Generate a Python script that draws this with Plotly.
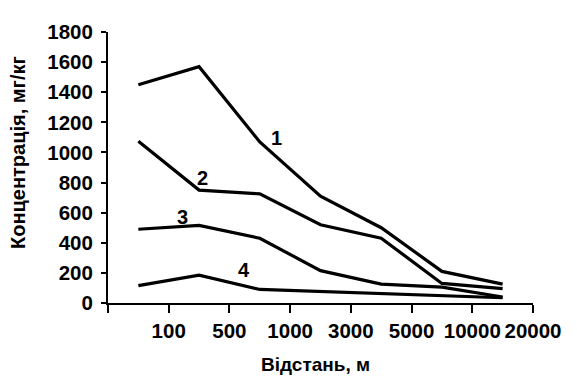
import plotly.graph_objects as go

# Category positions of the measurement points (between the printed ticks)
x_pos = [0.5, 1.5, 2.5, 3.5, 4.5, 5.5, 6.5]

# Tick labels on the distance axis
tick_pos = [0, 1, 2, 3, 4, 5, 6, 7]
tick_labels = ["", "100", "500", "1000", "3000", "5000", "10000", "20000"]

# Concentration series, mg/kg
series_1 = [1450, 1570, 1070, 710, 500, 210, 125]
series_2 = [1075, 750, 725, 520, 430, 130, 95]
series_3 = [490, 515, 430, 215, 125, 105, 40]
series_4 = [115, 185, 90, 75, 60, 50, 35]

series_names = ["1", "2", "3", "4"]
label_x = [2.78, 1.56, 1.22, 2.24]
label_y = [1098, 833, 574, 217]

font_family = "Liberation Sans, Arial, sans-serif"

fig = go.Figure()
for name, ys in zip(series_names, [series_1, series_2, series_3, series_4]):
    fig.add_trace(go.Scatter(x=x_pos, y=ys, mode="lines", name=name,
                             line=dict(color="black", width=3.2),
                             showlegend=False))

for name, lx, ly in zip(series_names, label_x, label_y):
    fig.add_annotation(x=lx, y=ly, text="<b>" + name + "</b>", showarrow=False,
                       font=dict(size=20, color="black", family=font_family))

fig.add_annotation(text="<b>Концентрація, мг/кг</b>", xref="paper", yref="paper",
                   x=-0.212, y=0.557, textangle=-90, showarrow=False,
                   xanchor="center", yanchor="middle",
                   font=dict(size=20, color="black", family=font_family))
fig.add_annotation(text="<b>Відстань, м</b>", xref="paper", yref="paper",
                   x=0.489, y=-0.228, showarrow=False,
                   xanchor="center", yanchor="middle",
                   font=dict(size=19, color="black", family=font_family))

fig.update_layout(
    width=569, height=368,
    margin=dict(l=100, r=44, t=13, b=73),
    plot_bgcolor="white", paper_bgcolor="white",
    font=dict(family=font_family, size=20, color="black", weight="bold"),
    xaxis=dict(range=[0, 7], tickmode="array", tickvals=tick_pos,
               ticktext=tick_labels, showgrid=False, zeroline=False,
               showline=True, linecolor="black", linewidth=2,
               ticks="outside", ticklen=8, tickwidth=2, tickcolor="black",
               tickfont=dict(size=20.5, weight="bold")),
    yaxis=dict(range=[0, 1800], tickmode="array",
               tickvals=list(range(0, 1801, 200)), showgrid=False,
               zeroline=False, showline=True, linecolor="black", linewidth=2,
               ticks="outside", ticklen=5, tickwidth=2, tickcolor="black",
               ticklabelstandoff=4,
               tickfont=dict(size=20.5, weight="bold")),
)

fig.write_html("out.html")
